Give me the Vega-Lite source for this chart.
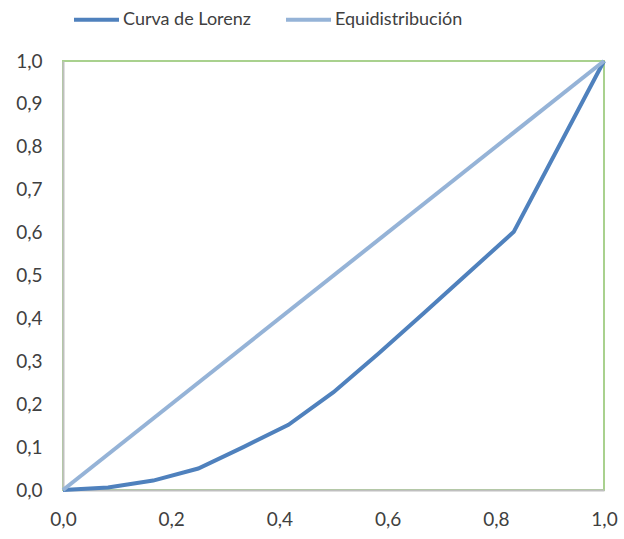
{
  "$schema": "https://vega.github.io/schema/vega-lite/v6.json",
  "width": 541,
  "height": 429,
  "autosize": "none",
  "padding": {"left": 63, "top": 61, "right": 20, "bottom": 49},
  "background": "white",
  "config": {
    "view": {"stroke": "#A9D18E", "strokeWidth": 2},
    "font": "Lato",
    "axis": {"labelFont": "Lato", "labelFontSize": 19, "labelColor": "#404040", "grid": false, "ticks": false, "domainColor": "#BFBFBF", "domainWidth": 2, "title": null, "labelFlush": false}
  },
  "data": {
    "values": [
      {"serie": "Curva de Lorenz", "x": 0.0, "y": 0.0},
      {"serie": "Curva de Lorenz", "x": 0.0833, "y": 0.006},
      {"serie": "Curva de Lorenz", "x": 0.1667, "y": 0.022},
      {"serie": "Curva de Lorenz", "x": 0.25, "y": 0.05},
      {"serie": "Curva de Lorenz", "x": 0.3333, "y": 0.1},
      {"serie": "Curva de Lorenz", "x": 0.4167, "y": 0.152},
      {"serie": "Curva de Lorenz", "x": 0.5, "y": 0.228},
      {"serie": "Curva de Lorenz", "x": 0.5833, "y": 0.318},
      {"serie": "Curva de Lorenz", "x": 0.6667, "y": 0.412},
      {"serie": "Curva de Lorenz", "x": 0.75, "y": 0.507},
      {"serie": "Curva de Lorenz", "x": 0.8333, "y": 0.602},
      {"serie": "Curva de Lorenz", "x": 1.0, "y": 1.0},
      {"serie": "Equidistribución", "x": 0.0, "y": 0.0},
      {"serie": "Equidistribución", "x": 1.0, "y": 1.0}
    ]
  },
  "mark": {"type": "line", "strokeWidth": 4, "clip": false},
  "encoding": {
    "x": {"field": "x", "type": "quantitative", "scale": {"domain": [0, 1], "nice": false},
      "axis": {"values": [0, 0.2, 0.4, 0.6, 0.8, 1.0], "labelPadding": 20, "labelExpr": "replace(format(datum.value, '.1f'), '.', ',')"}},
    "y": {"field": "y", "type": "quantitative", "scale": {"domain": [0, 1], "nice": false},
      "axis": {"values": [0, 0.1, 0.2, 0.3, 0.4, 0.5, 0.6, 0.7, 0.8, 0.9, 1.0], "labelPadding": 21, "labelExpr": "replace(format(datum.value, '.1f'), '.', ',')"}},
    "color": {"field": "serie", "type": "nominal",
      "scale": {"domain": ["Curva de Lorenz", "Equidistribución"], "range": ["#4F81BD", "#95B3D7"]},
      "legend": {"title": null, "orient": "none", "direction": "horizontal", "legendX": 9, "legendY": -66,
        "symbolType": "stroke", "symbolSize": 2025, "symbolStrokeWidth": 4, "labelFontSize": 18, "labelFont": "Lato", "labelColor": "#404040", "labelOffset": 2, "columnPadding": 27}}
  }
}
